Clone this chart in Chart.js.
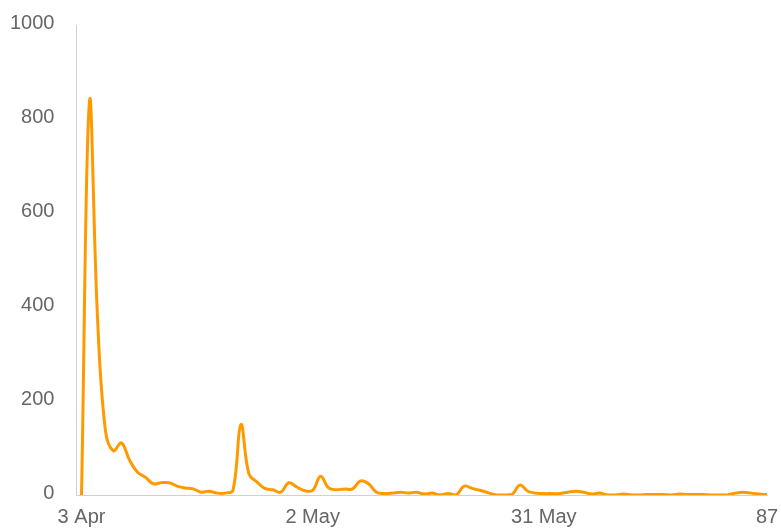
<!DOCTYPE html>
<html>
<head>
<meta charset="utf-8">
<script src="https://cdn.jsdelivr.net/npm/chart.js@4/dist/chart.umd.min.js"></script>
<style>
  html, body { margin: 0; padding: 0; background: #fff; }
  #wrap { width: 781px; height: 529px; }
</style>
</head>
<body>
<div id="wrap"><canvas id="chart"></canvas></div>
<script>
// daily values, day 0 = 3 Apr
const values = [
  0, 838, 380, 137, 94, 111, 75, 49, 38, 24,
  26, 26, 19, 15, 13, 6, 8, 4, 4, 10,
  150, 45, 28, 14, 11, 6, 26, 17, 9, 10,
  40, 15, 11, 13, 13, 30, 24, 6, 3, 4,
  6, 4, 6, 2, 4, 0, 3, 0, 19, 14,
  10, 5, 0, 0, 1, 21, 8, 4, 3, 3,
  3, 6, 8, 6, 2, 4, 0, 0, 2, 0,
  0, 1, 1, 1, 0, 2, 1, 1, 1, 0,
  0, 0, 4, 6, 4, 2, 1
];
const tickPositions = [0, 29, 58, 86];
const tickLabels = ['3 Apr', '2 May', '31 May', '87'];
const yTicks = [0, 200, 400, 600, 800, 1000];

const points = values.map((v, i) => ({ x: i, y: v }));

Chart.defaults.font.family = '"Liberation Sans", Arial, sans-serif';
Chart.defaults.font.size = 20;
Chart.defaults.color = '#666';

new Chart(document.getElementById('chart'), {
  type: 'line',
  data: {
    datasets: [{
      data: points,
      borderColor: '#FF9900',
      backgroundColor: '#FF9900',
      borderWidth: 3,
      pointRadius: 0,
      tension: 0.4,
      fill: false
    }]
  },
  options: {
    responsive: true,
    maintainAspectRatio: false,
    animation: false,
    layout: { padding: { top: 25, right: 14, left: -12, bottom: -10 } },
    plugins: { legend: { display: false }, tooltip: { enabled: false } },
    scales: {
      x: {
        type: 'linear',
        min: -0.63,
        max: 86,
        grid: { display: false, drawTicks: false },
        border: { color: '#d0d0d0', width: 1 },
        afterBuildTicks: s => { s.ticks = tickPositions.map(v => ({ value: v })); },
        afterFit: s => { s.paddingRight = 0; },
        ticks: {
          padding: 10,
          maxRotation: 0,
          autoSkip: false,
          callback: v => tickLabels[tickPositions.indexOf(v)]
        }
      },
      y: {
        min: 0,
        max: 1000,
        grid: { display: false, drawTicks: false },
        border: { color: '#d0d0d0', width: 1 },
        afterBuildTicks: s => { s.ticks = yTicks.map(v => ({ value: v })); },
        afterFit: s => { s.paddingTop = 0; },
        ticks: { padding: 22, labelOffset: -2, callback: v => String(v) }
      }
    }
  }
});
</script>
</body>
</html>
